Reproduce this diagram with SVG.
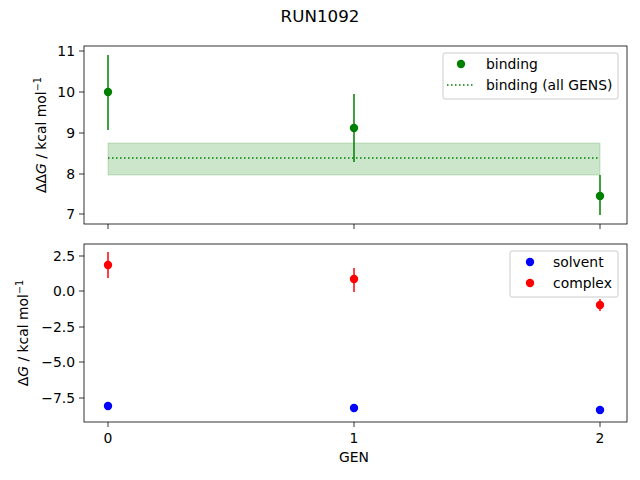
<svg xmlns="http://www.w3.org/2000/svg" width="640" height="480" viewBox="0 0 640 480">
<style>
text{font-family:"DejaVu Sans",sans-serif;font-size:13.9px;fill:#000}
.ax{fill:none;stroke:#000;stroke-width:0.8}
.tk{stroke:#000;stroke-width:0.8}
.g{stroke:#008000;stroke-width:1.5}
.r{stroke:#ff0000;stroke-width:1.5}
</style>
<rect width="640" height="480" fill="#fff"/>
<text x="320" y="22" text-anchor="middle" style="font-size:16.7px">RUN1092</text>
<g id="top">
<rect x="108" y="143" width="492" height="32" fill="#008000" fill-opacity="0.2" stroke="#008000" stroke-opacity="0.2"/>
<line x1="108" y1="158" x2="600" y2="158" stroke="#008000" stroke-width="1.5" stroke-dasharray="1.5,2.5"/>
<line class="g" x1="108" y1="55" x2="108" y2="130"/><circle cx="108" cy="92" r="4.2" fill="#008000"/>
<line class="g" x1="354" y1="94" x2="354" y2="162"/><circle cx="354" cy="128" r="4.2" fill="#008000"/>
<line class="g" x1="600" y1="175" x2="600" y2="215"/><circle cx="600" cy="196" r="4.2" fill="#008000"/>
<rect class="ax" x="84" y="46" width="543" height="178"/>
<g class="tk"><line x1="84" y1="51" x2="79" y2="51"/><line x1="84" y1="92" x2="79" y2="92"/><line x1="84" y1="133" x2="79" y2="133"/><line x1="84" y1="174" x2="79" y2="174"/><line x1="84" y1="214" x2="79" y2="214"/>
<line x1="108" y1="224" x2="108" y2="229"/><line x1="354" y1="224" x2="354" y2="229"/><line x1="600" y1="224" x2="600" y2="229"/></g>
<g text-anchor="end"><text x="75" y="56">11</text><text x="75" y="97">10</text><text x="75" y="138">9</text><text x="75" y="179">8</text><text x="75" y="219">7</text></g>
<text transform="translate(46,135) rotate(-90)" text-anchor="middle">ΔΔ<tspan font-style="italic">G</tspan> / kcal mol<tspan dy="-5" style="font-size:9.7px">−1</tspan></text>
<rect x="443" y="53" width="175" height="46" rx="2" fill="#fff" fill-opacity="0.8" stroke="#ccc"/>
<circle cx="461" cy="64" r="4.2" fill="#008000"/><text x="486" y="69">binding</text>
<line x1="447" y1="85" x2="475" y2="85" stroke="#008000" stroke-width="1.5" stroke-dasharray="1.5,2.5"/><text x="486" y="90">binding (all GENS)</text>
</g>
<g id="bottom">
<line class="r" x1="108" y1="252" x2="108" y2="278"/><circle cx="108" cy="265" r="4.2" fill="#ff0000"/>
<line class="r" x1="354" y1="268" x2="354" y2="292"/><circle cx="354" cy="279" r="4.2" fill="#ff0000"/>
<line class="r" x1="600" y1="299" x2="600" y2="311"/><circle cx="600" cy="305" r="4.2" fill="#ff0000"/>
<circle cx="108" cy="406" r="4.2" fill="#0000ff"/><circle cx="354" cy="408" r="4.2" fill="#0000ff"/><circle cx="600" cy="410" r="4.2" fill="#0000ff"/>
<rect class="ax" x="84" y="244" width="543" height="178"/>
<g class="tk"><line x1="84" y1="256" x2="79" y2="256"/><line x1="84" y1="291" x2="79" y2="291"/><line x1="84" y1="327" x2="79" y2="327"/><line x1="84" y1="362" x2="79" y2="362"/><line x1="84" y1="398" x2="79" y2="398"/>
<line x1="108" y1="422" x2="108" y2="427"/><line x1="354" y1="422" x2="354" y2="427"/><line x1="600" y1="422" x2="600" y2="427"/></g>
<g text-anchor="end"><text x="75" y="261">2.5</text><text x="75" y="296">0.0</text><text x="75" y="332">−2.5</text><text x="75" y="367">−5.0</text><text x="75" y="403">−7.5</text></g>
<g text-anchor="middle"><text x="108" y="443">0</text><text x="354" y="443">1</text><text x="600" y="443">2</text><text x="354" y="462">GEN</text></g>
<text transform="translate(28,333) rotate(-90)" text-anchor="middle">Δ<tspan font-style="italic">G</tspan> / kcal mol<tspan dy="-5" style="font-size:9.7px">−1</tspan></text>
<rect x="510" y="251" width="108" height="46" rx="2" fill="#fff" fill-opacity="0.8" stroke="#ccc"/>
<circle cx="530" cy="262" r="4.2" fill="#0000ff"/><text x="553" y="267">solvent</text>
<circle cx="530" cy="283" r="4.2" fill="#ff0000"/><text x="553" y="288">complex</text>
</g>
</svg>
